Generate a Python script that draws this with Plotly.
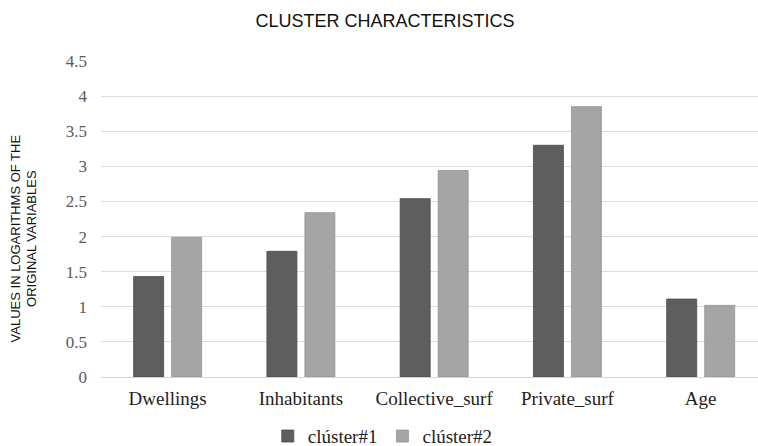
import plotly.graph_objects as go

categories = ["Dwellings", "Inhabitants", "Collective_surf", "Private_surf", "Age"]
cluster1 = [1.43, 1.79, 2.54, 3.30, 1.11]
cluster2 = [1.99, 2.34, 2.94, 3.85, 1.02]
y_ticks = [0, 0.5, 1, 1.5, 2, 2.5, 3, 3.5, 4, 4.5]
y_tick_text = ["0", "0.5", "1", "1.5", "2", "2.5", "3", "3.5", "4", "4.5"]

serif = "Liberation Serif, Times New Roman, serif"
sans = "Liberation Sans, Arial, sans-serif"

fig = go.Figure()
fig.add_trace(go.Bar(
    x=categories, y=cluster1, name="clúster#1",
    marker=dict(color="#5e5e5e", line=dict(color="#4a4a4a", width=0.8)),
))
fig.add_trace(go.Bar(
    x=categories, y=cluster2, name="clúster#2",
    marker=dict(color="#a5a5a5", line=dict(color="#939393", width=0.8)),
))

fig.update_layout(
    width=758, height=446,
    margin=dict(l=101, r=0, t=61, b=69),
    paper_bgcolor="white", plot_bgcolor="white",
    barmode="group", bargap=0.43, bargroupgap=0.21,
    title=dict(text="CLUSTER CHARACTERISTICS", x=0.508, xref="container", xanchor="center",
               y=0.953, yref="container", yanchor="middle",
               font=dict(family=sans, size=18, color="#111111")),
    xaxis=dict(range=[-0.5, 4.43], showgrid=False, showline=True, linecolor="#d4d4d4", linewidth=1,
               tickfont=dict(family=serif, size=19, color="#222222"), ticks="", ticklabelstandoff=4),
    yaxis=dict(range=[0, 4.5], tickvals=y_ticks, ticktext=y_tick_text,
               showgrid=True, gridcolor="#dcdcdc", gridwidth=1.2, zeroline=False,
               tickfont=dict(family=serif, size=17, color="#5a5a5a"), ticklabelstandoff=13),
    legend=dict(orientation="h", x=0.505, xref="container", xanchor="center",
                y=0.022, yref="container", yanchor="middle",
                font=dict(family=serif, size=19, color="#222222"),
                itemwidth=30, tracegroupgap=0),
    showlegend=True,
    annotations=[dict(
        text="VALUES IN LOGARITHMS OF THE<br>ORIGINAL VARIABLES",
        xref="paper", yref="paper", x=-0.118, y=0.44, xanchor="center", yanchor="middle",
        textangle=-90, showarrow=False,
        font=dict(family=sans, size=13, color="#111111"),
    )],
)

fig.write_html("out.html")
